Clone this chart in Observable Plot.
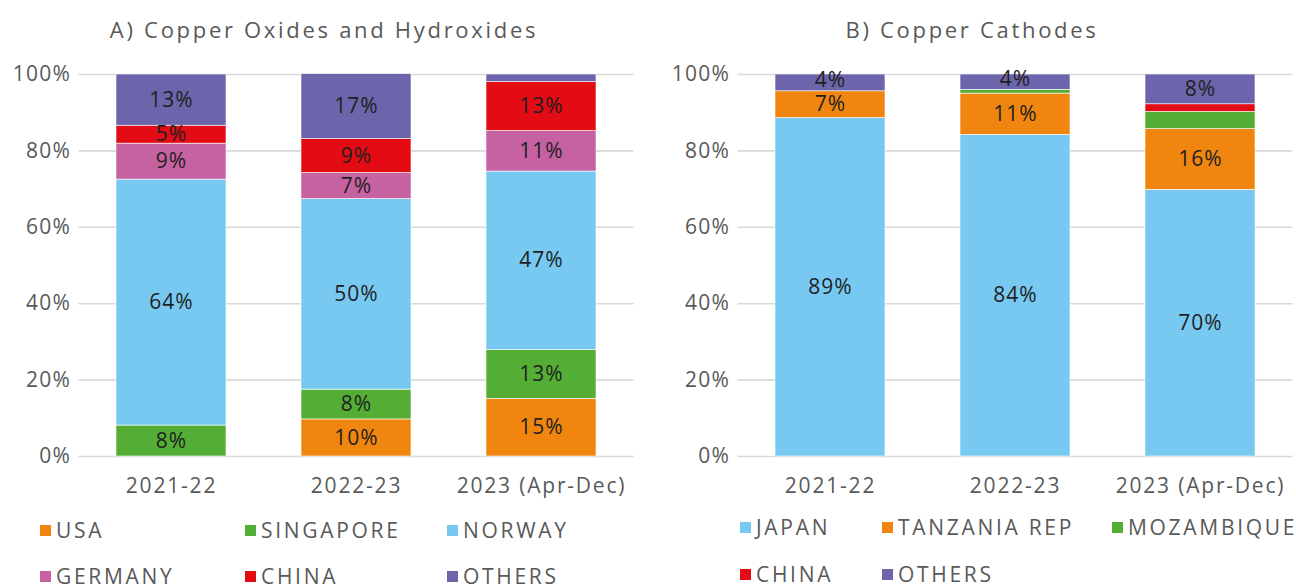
<!DOCTYPE html>
<html>
<head>
<meta charset="utf-8">
<script src="https://cdn.jsdelivr.net/npm/d3@7"></script>
<script src="https://cdn.jsdelivr.net/npm/@observablehq/plot@0.6"></script>
<style>
  html, body { margin: 0; padding: 0; background: #fff; }
  body { width: 1296px; height: 586px; position: relative; overflow: hidden; font-family: "Open Sans", sans-serif; }
  .panel { position: absolute; top: 0; width: 648px; height: 586px; }
  .title { position: absolute; top: 14px; left: 0; width: 100%; text-align: center; font-size: 22px; color: #595959; letter-spacing: 2.7px; }
  .plot { position: absolute; top: 0; left: 0; }
  .leg { position: absolute; display: flex; align-items: center; font-size: 21px; color: #595959; letter-spacing: 2.7px; white-space: nowrap; }
  .sw { width: 11px; height: 11px; margin-right: 5px; }
</style>
</head>
<body>
<div id="pA" class="panel" style="left:0"></div>
<div id="pB" class="panel" style="left:648px"></div>
<script>
// ---- Data ----
const years = ["2021-22", "2022-23", "2023 (Apr-Dec)"];
const yTicks = [0, 20, 40, 60, 80, 100];

// Panel A: Copper Oxides and Hydroxides (share %, bottom to top)
const titleA = "A) Copper Oxides and Hydroxides";
const seriesA = ["USA", "SINGAPORE", "NORWAY", "GERMANY", "CHINA", "OTHERS"];
const colorsA = ["#F0860F", "#54AE35", "#78C9F2", "#C662A1", "#E30B14", "#6C65AB"];
const usaA       = [0,    9.7,  15.1];
const singaporeA = [8.1,  7.8,  12.8];
const norwayA    = [64.4, 49.9, 46.7];
const germanyA   = [9.4,  6.8,  10.6];
const chinaA     = [4.7,  8.9,  12.8];
const othersA    = [13.4, 17.0, 2.0];

// Panel B: Copper Cathodes
const titleB = "B) Copper Cathodes";
const seriesB = ["JAPAN", "TANZANIA REP", "MOZAMBIQUE", "CHINA", "OTHERS"];
const colorsB = ["#78C9F2", "#F0860F", "#54AE35", "#E30B14", "#6C65AB"];
const japanB      = [88.6, 84.2, 69.8];
const tanzaniaB   = [7.0,  10.8, 15.9];
const mozambiqueB = [0,    1.0,  4.5];
const chinaB      = [0,    0,    2.0];
const othersB     = [4.4,  4.0,  7.8];
const unlabeledB  = ["MOZAMBIQUE", "CHINA"];

function build(el, cfg) {
  const data = [];
  cfg.series.forEach((s, i) => {
    years.forEach((y, j) => data.push({ year: y, series: s, value: cfg.values[i][j] }));
  });
  const t = document.createElement("div");
  t.className = "title";
  t.textContent = cfg.title;
  el.appendChild(t);

  const showLabel = d => d.value >= 3 && !cfg.unlabeled.includes(d.series);
  const isRaised = d => cfg.raised.includes(d.series) && d.value < 6;
  const plot = Plot.plot({
    width: 648,
    height: 500,
    marginTop: 74,
    marginBottom: 44,
    marginLeft: cfg.ml,
    marginRight: cfg.mr,
    style: { fontFamily: "Open Sans, sans-serif", background: "transparent", overflow: "visible" },
    x: { domain: years, paddingInner: 0.405, paddingOuter: 0.2025, label: null, tickSize: 0, tickPadding: 22 },
    y: { domain: [0, 100], ticks: yTicks, tickFormat: d => d + "%", label: null, tickSize: 0, tickPadding: 8 },
    color: { domain: cfg.series, range: cfg.colors },
    marks: [
      Plot.ruleY(yTicks, { stroke: "#d9d9d9", strokeWidth: 1.6 }),
      Plot.barY(data, Plot.stackY({ x: "year", y: "value", fill: "series", order: cfg.series, stroke: "white", strokeWidth: 0.6 })),
      Plot.text(data, Plot.stackY({ x: "year", y: "value", z: "series", order: cfg.series,
        text: d => showLabel(d) && !isRaised(d) ? Math.round(d.value) + "%" : null,
        fill: "#1f1f1f", fontSize: 21 })),
      Plot.text(data, Plot.stackY({ x: "year", y: "value", z: "series", order: cfg.series,
        text: d => showLabel(d) && isRaised(d) ? Math.round(d.value) + "%" : null,
        fill: "#1f1f1f", fontSize: 21, dy: -3 }))
    ]
  });
  plot.classList.add("plot");
  plot.querySelectorAll("[aria-label='x-axis tick label']").forEach(g => {
    g.setAttribute("font-size", "21");
    g.setAttribute("fill", "#595959");
    g.style.letterSpacing = "1.8px";
  });
  plot.querySelectorAll("[aria-label='y-axis tick label']").forEach(g => {
    g.setAttribute("font-size", "21");
    g.setAttribute("fill", "#595959");
    g.style.letterSpacing = "1.2px";
  });
  plot.querySelectorAll("[aria-label='text']").forEach(g => {
    g.style.letterSpacing = "1px";
  });
  el.appendChild(plot);

  cfg.series.forEach((s, i) => {
    const pos = cfg.legendPos[i];
    const item = document.createElement("div");
    item.className = "leg";
    item.style.left = pos[0] + "px";
    item.style.top = pos[1] + "px";
    const sw = document.createElement("div");
    sw.className = "sw";
    sw.style.background = cfg.colors[i];
    item.appendChild(sw);
    const tx = document.createElement("span");
    tx.textContent = s;
    item.appendChild(tx);
    el.appendChild(item);
  });
}

build(document.getElementById("pA"), {
  title: titleA, series: seriesA, colors: colorsA,
  values: [usaA, singaporeA, norwayA, germanyA, chinaA, othersA],
  unlabeled: [], raised: [], ml: 78.5, mr: 14.5,
  legendPos: [[40, 516], [245, 516], [447, 516], [40, 562], [245, 562], [447, 562]]
});
build(document.getElementById("pB"), {
  title: titleB, series: seriesB, colors: colorsB,
  values: [japanB, tanzaniaB, mozambiqueB, chinaB, othersB],
  unlabeled: unlabeledB, raised: ["OTHERS"], ml: 89.5, mr: 3.5,
  legendPos: [[92, 513], [234, 513], [464, 513], [92, 560], [234, 560]]
});
</script>
</body>
</html>
